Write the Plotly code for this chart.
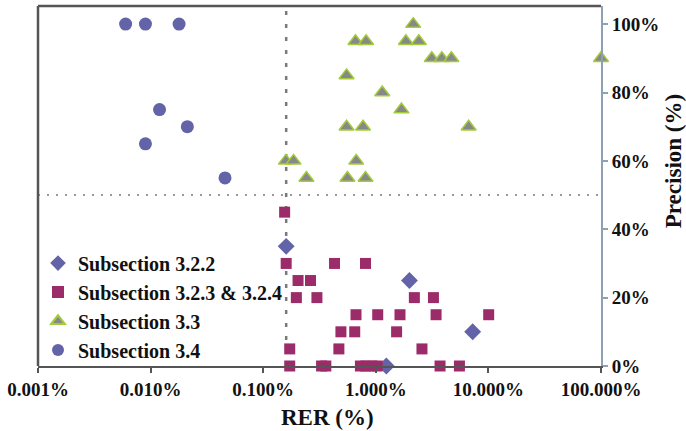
import plotly.graph_objects as go

# ---- data (RER in %, Precision in %) ----
s322_rer = [0.16, 1.99, 7.25, 1.24]
s322_prec = [35, 25, 10, 0]

s323_rer = [0.155, 0.16, 0.43, 0.81, 0.204, 0.263, 0.197, 0.30, 2.20, 3.25,
            0.667, 1.04, 1.64, 3.43, 10.06, 0.49, 0.65, 1.53,
            0.172, 0.47, 2.57, 0.172, 0.33, 0.36, 0.73, 0.815, 0.92, 1.03, 3.72, 5.53]
s323_prec = [45, 30, 30, 30, 25, 25, 20, 20, 20, 20,
             15, 15, 15, 15, 15, 10, 10, 10,
             5, 5, 5, 0, 0, 0, 0, 0, 0, 0, 0, 0]

s33_rer = [0.159, 0.186, 0.242, 0.55, 0.55, 0.56, 0.66, 0.67, 0.77, 0.81, 0.82,
           1.14, 1.69, 1.85, 2.15, 2.41, 3.14, 3.86, 4.69, 6.68, 100]
s33_prec = [60, 60, 55, 85, 70, 55, 95, 60, 70, 55, 95,
            80, 75, 95, 100, 95, 90, 90, 90, 70, 90]

s34_rer = [0.006, 0.009, 0.0179, 0.012, 0.0212, 0.009, 0.0458]
s34_prec = [100, 100, 100, 75, 70, 65, 55]

x_tickvals = [0.001, 0.01, 0.1, 1, 10, 100]
x_ticktext = ["0.001%", "0.010%", "0.100%", "1.000%", "10.000%", "100.000%"]
y_tickvals = [0, 20, 40, 60, 80, 100]
y_ticktext = ["0%", "20%", "40%", "60%", "80%", "100%"]

RER_THRESHOLD = 0.16
PREC_THRESHOLD = 50

FONT = "Liberation Serif"
BLUE = "#6264a7"
MAG = "#9c2b69"

fig = go.Figure()
fig.add_trace(go.Scatter(x=s322_rer, y=s322_prec, mode="markers", name="Subsection 3.2.2",
                         marker=dict(symbol="diamond", size=13, color=BLUE), cliponaxis=False))
fig.add_trace(go.Scatter(x=s323_rer, y=s323_prec, mode="markers", name="Subsection 3.2.3 & 3.2.4",
                         marker=dict(symbol="square", size=11, color=MAG), cliponaxis=False))
fig.add_trace(go.Scatter(x=s33_rer, y=s33_prec, mode="markers", name="Subsection 3.3",
                         marker=dict(symbol="triangle-up", size=13, color="#888888",
                                     line=dict(color="#a3cc3a", width=1.5)), cliponaxis=False))
fig.add_trace(go.Scatter(x=s34_rer, y=s34_prec, mode="markers", name="Subsection 3.4",
                         marker=dict(symbol="circle", size=13, color=BLUE), cliponaxis=False))

# threshold lines
fig.add_shape(type="line", xref="x", yref="paper", x0=RER_THRESHOLD, x1=RER_THRESHOLD, y0=0, y1=1,
              line=dict(color="#7a7a7a", width=2.5, dash="4px,9px"), layer="below")
fig.add_shape(type="line", xref="paper", yref="y", x0=0, x1=1, y0=PREC_THRESHOLD, y1=PREC_THRESHOLD,
              line=dict(color="#9a9a9a", width=2, dash="2px,7px"), layer="below")
# left & top frame
fig.add_shape(type="line", xref="paper", yref="paper", x0=0, x1=0, y0=0, y1=1,
              line=dict(color="#555555", width=2.5))
fig.add_shape(type="line", xref="paper", yref="paper", x0=0, x1=1, y0=1, y1=1,
              line=dict(color="#555555", width=2.5))

fig.add_annotation(text="<b>RER (%)</b>", xref="paper", yref="paper", x=0.515, y=-0.144,
                   showarrow=False, font=dict(family=FONT, size=23, color="#111"),
                   xanchor="center", yanchor="middle")
fig.add_annotation(text="<b>Precision (%)</b>", xref="paper", yref="paper", x=1.128, y=0.569,
                   showarrow=False, textangle=-90, font=dict(family=FONT, size=23, color="#111"),
                   xanchor="center", yanchor="middle")

fig.update_layout(
    width=686, height=431,
    margin=dict(l=38, r=85, t=6, b=65, autoexpand=False),
    paper_bgcolor="white", plot_bgcolor="white",
    font=dict(family=FONT, size=19, color="#111"),
    showlegend=True,
    legend=dict(x=0.0, y=0.34, xref="paper", yref="paper", xanchor="left", yanchor="top",
                bgcolor="rgba(0,0,0,0)", font=dict(family=FONT, size=20, color="#111", weight="bold"),
                itemsizing="constant", tracegroupgap=0),
    xaxis=dict(type="log", range=[-3, 2], tickvals=x_tickvals, ticktext=x_ticktext,
               automargin=False,
               showgrid=False, zeroline=False, showline=True, linecolor="#555555", linewidth=2,
               ticks="outside", ticklen=5, tickcolor="#555555", tickwidth=1.5,
               tickfont=dict(family=FONT, size=19, color="#111", weight="bold")),
    yaxis=dict(range=[0, 105.3], side="right", tickvals=y_tickvals, ticktext=y_ticktext,
               automargin=False,
               showgrid=False, zeroline=False, showline=True, linecolor="#8da0b4", linewidth=2,
               ticks="outside", ticklen=5, tickcolor="#8da0b4", tickwidth=1.5,
               tickfont=dict(family=FONT, size=19, color="#111", weight="bold")),
)

fig.write_html("out.html", config={"displayModeBar": False},
               post_script="document.body.style.margin='0';document.body.style.overflow='hidden';")
